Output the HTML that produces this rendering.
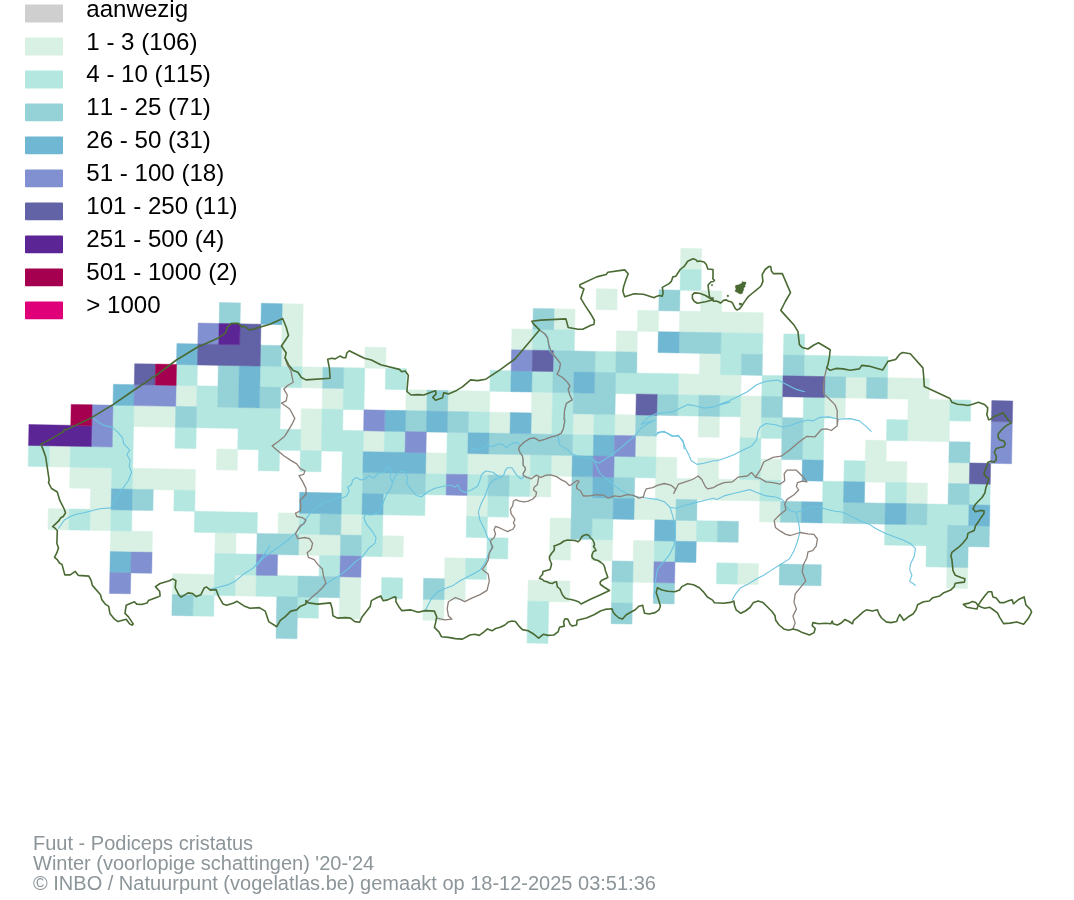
<!DOCTYPE html>
<html lang="nl"><head><meta charset="utf-8"><title>Fuut - Podiceps cristatus</title>
<style>html,body{margin:0;padding:0;background:#fff}svg{display:block}text{font-family:"Liberation Sans",sans-serif;font-kerning:none}.lg{font-size:24.1px;fill:#000}.ft{font-size:20px;fill:#8c9599}</style></head><body>
<svg width="1074" height="900" viewBox="0 0 1074 900">
<rect width="1074" height="900" fill="#fff"/>
<g transform="matrix(20.915 0.389 -0.389 20.915 32.45 236.3)" shape-rendering="auto">
<path fill="#d8f1e4" stroke="#d8f1e4" stroke-width="0.022" stroke-linejoin="miter" d="M31 0h1v1h-1zM27 2h1v1h-1zM32 2h1v1h-1zM12 3h1v1h-1zM25 3h1v1h-1zM29 3h1v1h-1zM31 3h4v1h-4zM12 4h1v1h-1zM23 4h1v1h-1zM28 4h1v1h-1zM12 5h1v1h-1zM16 5h1v1h-1zM32 5h1v1h-1zM13 6h1v1h-1zM31 6h3v1h-3zM39 6h1v1h-1zM41 6h2v1h-2zM7 7h1v1h-1zM14 7h1v1h-1zM18 7h1v1h-1zM20 7h2v1h-2zM24 7h1v1h-1zM34 7h1v1h-1zM38 7h1v1h-1zM42 7h2v1h-2zM5 8h2v1h-2zM13 8h1v1h-1zM22 8h1v1h-1zM24 8h1v1h-1zM26 8h1v1h-1zM28 8h1v1h-1zM32 8h1v1h-1zM34 8h1v1h-1zM42 8h2v1h-2zM13 9h1v1h-1zM16 9h1v1h-1zM29 9h1v1h-1zM40 9h1v1h-1zM1 10h1v1h-1zM9 10h1v1h-1zM19 10h1v1h-1zM21 10h3v1h-3zM25 10h1v1h-1zM30 10h1v1h-1zM32 10h1v1h-1zM35 10h1v1h-1zM40 10h2v1h-2zM44 10h1v1h-1zM2 11h2v1h-2zM5 11h3v1h-3zM24 11h1v1h-1zM30 11h5v1h-5zM42 11h1v1h-1zM3 12h1v1h-1zM21 12h1v1h-1zM29 12h2v1h-2zM35 12h1v1h-1zM1 13h1v1h-1zM3 13h1v1h-1zM12 13h1v1h-1zM15 13h1v1h-1zM25 13h1v1h-1zM31 13h1v1h-1zM4 14h2v1h-2zM9 14h1v1h-1zM13 14h2v1h-2zM17 14h1v1h-1zM25 14h1v1h-1zM27 14h1v1h-1zM29 14h1v1h-1zM20 15h1v1h-1zM29 15h1v1h-1zM34 15h1v1h-1zM44 15h1v1h-1zM7 16h2v1h-2zM10 16h1v1h-1zM15 16h1v1h-1zM20 16h1v1h-1zM24 16h2v1h-2zM15 17h1v1h-1zM19 17h1v1h-1z"/>
<path fill="#b3e7e0" stroke="#b3e7e0" stroke-width="0.022" stroke-linejoin="miter" d="M31 1h1v1h-1zM24 4h2v1h-2zM33 4h2v1h-2zM36 4h1v1h-1zM27 5h1v1h-1zM33 5h1v1h-1zM37 5h4v1h-4zM7 6h1v1h-1zM11 6h2v1h-2zM15 6h1v1h-1zM17 6h1v1h-1zM22 6h1v1h-1zM24 6h1v1h-1zM28 6h3v1h-3zM35 6h1v1h-1zM8 7h1v1h-1zM15 7h1v1h-1zM25 7h1v1h-1zM31 7h1v1h-1zM33 7h1v1h-1zM37 7h1v1h-1zM44 7h1v1h-1zM4 8h1v1h-1zM8 8h4v1h-4zM14 8h1v1h-1zM21 8h1v1h-1zM25 8h1v1h-1zM27 8h1v1h-1zM35 8h1v1h-1zM37 8h1v1h-1zM41 8h1v1h-1zM4 9h1v1h-1zM7 9h1v1h-1zM10 9h3v1h-3zM14 9h2v1h-2zM17 9h1v1h-1zM20 9h1v1h-1zM26 9h1v1h-1zM34 9h1v1h-1zM37 9h1v1h-1zM0 10h1v1h-1zM2 10h3v1h-3zM11 10h1v1h-1zM13 10h1v1h-1zM15 10h1v1h-1zM20 10h1v1h-1zM24 10h1v1h-1zM28 10h2v1h-2zM34 10h1v1h-1zM39 10h1v1h-1zM4 11h1v1h-1zM15 11h1v1h-1zM19 11h1v1h-1zM21 11h1v1h-1zM23 11h1v1h-1zM35 11h1v1h-1zM38 11h1v1h-1zM41 11h1v1h-1zM45 11h1v1h-1zM7 12h1v1h-1zM15 12h1v1h-1zM17 12h2v1h-2zM22 12h1v1h-1zM38 12h1v1h-1zM43 12h2v1h-2zM2 13h1v1h-1zM4 13h1v1h-1zM8 13h3v1h-3zM13 13h1v1h-1zM16 13h1v1h-1zM21 13h1v1h-1zM27 13h1v1h-1zM32 13h1v1h-1zM41 13h3v1h-3zM16 14h1v1h-1zM22 14h1v1h-1zM30 14h1v1h-1zM43 14h1v1h-1zM9 15h2v1h-2zM14 15h1v1h-1zM21 15h1v1h-1zM33 15h1v1h-1zM9 16h1v1h-1zM11 16h2v1h-2zM17 16h1v1h-1zM28 16h1v1h-1zM8 17h1v1h-1zM13 17h1v1h-1zM24 17h1v1h-1zM24 18h1v1h-1z"/>
<path fill="#95d2d7" stroke="#95d2d7" stroke-width="0.022" stroke-linejoin="miter" d="M30 2h1v1h-1zM9 3h1v1h-1zM24 3h1v1h-1zM31 4h2v1h-2zM11 5h1v1h-1zM25 5h2v1h-2zM28 5h1v1h-1zM34 5h1v1h-1zM36 5h1v1h-1zM9 6h1v1h-1zM14 6h1v1h-1zM25 6h1v1h-1zM27 6h1v1h-1zM38 6h1v1h-1zM40 6h1v1h-1zM9 7h1v1h-1zM11 7h1v1h-1zM19 7h1v1h-1zM26 7h2v1h-2zM30 7h1v1h-1zM32 7h1v1h-1zM35 7h1v1h-1zM7 8h1v1h-1zM18 8h1v1h-1zM20 8h1v1h-1zM29 8h1v1h-1zM36 8h1v1h-1zM22 9h4v1h-4zM36 9h1v1h-1zM44 9h1v1h-1zM16 11h3v1h-3zM22 11h1v1h-1zM26 11h1v1h-1zM28 11h1v1h-1zM44 11h1v1h-1zM5 12h1v1h-1zM26 12h2v1h-2zM31 12h1v1h-1zM36 12h1v1h-1zM39 12h2v1h-2zM42 12h1v1h-1zM14 13h1v1h-1zM26 13h1v1h-1zM33 13h1v1h-1zM44 13h2v1h-2zM11 14h2v1h-2zM15 14h1v1h-1zM44 14h1v1h-1zM28 15h1v1h-1zM36 15h2v1h-2zM13 16h2v1h-2zM19 16h1v1h-1zM30 16h1v1h-1zM7 17h1v1h-1zM12 17h1v1h-1zM28 17h1v1h-1zM12 18h1v1h-1z"/>
<path fill="#6fb7d2" stroke="#6fb7d2" stroke-width="0.022" stroke-linejoin="miter" d="M11 3h1v1h-1zM30 4h1v1h-1zM7 5h1v1h-1zM10 6h1v1h-1zM23 6h1v1h-1zM26 6h1v1h-1zM4 7h1v1h-1zM10 7h1v1h-1zM17 8h1v1h-1zM19 8h1v1h-1zM23 8h1v1h-1zM21 9h1v1h-1zM27 9h1v1h-1zM16 10h3v1h-3zM26 10h1v1h-1zM37 10h1v1h-1zM27 11h1v1h-1zM39 11h1v1h-1zM4 12h1v1h-1zM13 12h2v1h-2zM16 12h1v1h-1zM28 12h1v1h-1zM37 12h1v1h-1zM41 12h1v1h-1zM45 12h1v1h-1zM30 13h1v1h-1zM31 14h1v1h-1zM4 15h1v1h-1z"/>
<path fill="#8090d0" stroke="#8090d0" stroke-width="0.022" stroke-linejoin="miter" d="M8 4h1v1h-1zM23 5h1v1h-1zM5 7h2v1h-2zM3 8h1v1h-1zM16 8h1v1h-1zM46 8h1v1h-1zM3 9h1v1h-1zM18 9h1v1h-1zM28 9h1v1h-1zM46 9h1v1h-1zM27 10h1v1h-1zM20 11h1v1h-1zM5 15h1v1h-1zM11 15h1v1h-1zM15 15h1v1h-1zM30 15h1v1h-1zM4 16h1v1h-1z"/>
<path fill="#6262a6" stroke="#6262a6" stroke-width="0.022" stroke-linejoin="miter" d="M10 4h1v1h-1zM8 5h3v1h-3zM24 5h1v1h-1zM5 6h1v1h-1zM36 6h2v1h-2zM29 7h1v1h-1zM46 7h1v1h-1zM45 10h1v1h-1z"/>
<path fill="#5c2595" stroke="#5c2595" stroke-width="0.022" stroke-linejoin="miter" d="M9 4h1v1h-1zM0 9h3v1h-3z"/>
<path fill="#a5004f" stroke="#a5004f" stroke-width="0.022" stroke-linejoin="miter" d="M6 6h1v1h-1zM2 8h1v1h-1z"/>
</g>
<g fill="none" stroke="#6cc4e0" stroke-width="1.1" stroke-linejoin="round" stroke-linecap="round">
<path d="M92.4,417.2 99.4,423.1 104,425.4 112.2,427.3 118,432.4 122.7,438.2 123.9,444.1 128.5,448.7 129.7,450 126.9,454.7 130.2,460.5 129.2,466.3 131.6,472.2 128.5,480.3 122.7,488.5 115.7,499 110.6,507.9 99.4,508.8 90,511.2 83,513 76,514.2 70.2,516.5 64.4,520 58.5,528.2"/>
<path d="M209.1,589.4 218.4,587.3 227.7,584.9 235.9,580.7 244.1,573.7 253.4,567.9 260.4,559.7 265.1,552.7 270,545.7 257,565.5 262.8,558.5 271,552.2 280.3,545.7 289.7,538.7 296.7,531.7 302.5,524.7 306,518.9 309.5,514.2 315.4,508.4 324.7,502.5 331.7,500.2 339.9,496.7 343.4,497.9 346.9,495.5 349.2,490.8 347.6,487.3 351.5,484.5 352.7,479.9 356.2,477.5 360.9,479.9 364.4,479.2 369,475.7 373.7,478 378.4,473.3 384.2,472.2 386.6,467.5 388.9,465.9 391.2,471 390.1,476.8 392.4,482.7 395.2,475.7 399.4,471.5 404.5,471.5 407.6,477.5 406.4,482.7 411.1,489.7 416.2,495.5 421.6,496.7 427.4,492 434.4,488.5 443.7,486.2 450.7,485 455.4,487.3 457.7,484.5 460.1,489.7 464.8,492.5 471.8,489.7 477.6,486.2 479.9,480.3 481.6,474.5 485.8,471 492.8,472.2 497.4,475.7 500,478 503.7,475.1 505.2,470.7 507.5,467.7 511.9,467.7 514.2,471.4 517.2,475.9 520.9,478.8 523.1,478.1 523.1,473.6 525.3,469.9 525.3,467.7 523.1,465.4 523.1,460.2 522.4,455.8 520.1,452.8 518.6,449.1 519.4,446.8 523.9,442.3 529.8,438.6 534.3,437.9 539.5,440.9 544.7,439.4 550.7,437.1 556.6,435.6 561.1,433.4 563.3,428.9 564.8,423 564.8,420 564.5,410.4 566.4,403.4 572.2,399.9 569.9,395.2 568.2,389.4 569.9,385.9 567.5,382.4 562.9,377.7 557,374.2 559.4,369.6 560.5,363.7 557,359 552.4,354.4 548.9,349.7 548.2,342.7 546.5,334.5 539.5,329.9"/>
<path d="M307.2,601.7 317.7,592.4 324.7,585.4 330.5,580.7 338.7,576.1 348,569 355,562 362,557.4 369,548 374.9,543.4 376.1,537.5 372.5,531.7 366.7,524.7 363.9,517.7 365.5,514.2 371.4,514.9 378.4,511.9 381.9,506 384.2,500.2 386.6,494.4 390.1,489.7 392.4,483.8"/>
<path d="M425.1,611.1 430.9,599.4 436.7,592.4 443.7,588.9 453.1,585.4 460.1,580.7 469.4,576.1 479.9,570.2 485.8,562 488.1,555 491.6,548 490.4,541 488.1,538.7 484.6,529.4 479.9,520 478.3,511.9 481.1,503.7 484.6,496.7 488.1,487.3 489.6,484.1 493.3,480.3 497.8,478.4"/>
<path d="M471,448.3 474.7,449.1 479.2,449.8 483.6,447.6 488.1,444.6 489.6,446.8 494.1,446.1 498.5,443.8 503,444.6 506,447.6 509,445.3 513.4,443.1 516.4,442.3 519.4,444.6"/>
<path d="M558.1,436.4 558.9,440.9 559.6,444.6 564.1,447.6 568.5,450.5 571.5,453.5 576.7,455.8 582,457.2 585.7,459 590,457.2 594.4,460.8 599,463.2 606.1,458.5 611.9,455 617.7,450.3 624.7,444.5 631.7,438.7 636.4,434 641.1,428.2 648.1,423.5 655.1,420 641.1,424.4 648.1,417.4 655.1,413.9 664.4,412.7 673.7,411.6 680.7,408.1 687.7,404.6 694.8,405.7 704.1,408.1 713.4,406.9 720.4,404.6 730,402.2 719.3,404.6 728.7,401.1 738,396.4 747.3,391.7 756.7,384.7 766,381.2 777.7,380.1 787,384.7 796.4,389.4 804.5,391.7"/>
<path d="M594.4,460.8 596.7,466.7 600.2,473.7 607.2,479.5 614.2,485.4 620.1,490 629.4,494.7 638.7,497 648.1,498.2 657.4,499.4 664.4,501.7 670.2,507.5 676.1,508.2 685.4,505.2 694.8,502.9 704.1,500.5 713.4,498.2 717,499.4 724,495.9 733.3,493.5 742.7,491.2 749.7,489.6 756.7,492.4 766,495.9 775.4,497 782.4,499.4 787,507.5 790.5,511 796.4,512.2 803.4,509.9 810.4,507.5 817.4,506.4 824.4,508.7 833.7,511 843.1,512.2 850.1,515.7 859.4,520.4 868.7,523.9 875.7,528.5 885.1,533.2 894.4,536.7 903.7,540.2 910.7,543.7 915.4,548.4 914.2,556.6 910.7,563.6 909.6,569.4 911.9,575.2 909.6,581.1 915.4,585.3"/>
<path d="M670.2,507.5 672.6,515.7 674.9,525 675.6,536.7 673.7,546.1 669.1,555.4 663.2,562.4 657.4,569.4 655.1,583.4 653.9,597.4"/>
<path d="M796.4,513.4 798.7,522.7 799.9,532 797.5,541.4 794,550.7 789.4,558.9 780,564.7 770.7,570.6 763.7,575.2 756.7,578.7 747.3,584.6 740.3,588.1 735.7,593.9 732.2,599.7"/>
<path d="M655.1,435.2 660.9,431.7 666.7,432.8 673.7,436.3 678.4,435.2 683.1,442.2 685.4,448 688.9,455 691.3,460.8 697.1,464.4 704.1,463.2 713.4,460.8 717,460.8 724,458.5 733.3,455 742.7,450.3 752,445.7 756.7,439.8 757.9,431.7 760.2,427 766,423.5 775.4,424.7 782.4,427 789.4,425.8 798.7,422.3 808,420 812.7,420.9 819.7,417.4 829,416.9 838.4,419.3 850.1,418.6 859.4,420.9 866.4,426.7 871.1,431.4"/>
<path d="M657.4,432.6 664.4,431.4 671.4,436.1 678.4,436.1 683.1,440.7 684.2,448.9"/>
</g>
<g fill="none" stroke="#8b8079" stroke-width="1.3" stroke-linejoin="round" stroke-linecap="round">
<path d="M285,357.7 287.3,364.7 290.8,370.5 293.2,382.2 287.3,385.7 283.8,389.2 287.3,395 286.2,400.9 281.5,403.2 285,405.5 289.7,409 294.8,418.4 292,424.2 288.5,430.1 285,435.9 278,441.7 272.2,445.9 276.8,449.9 283.8,455.7 290.8,460.4 296.7,463.9 300.2,468.6 304.9,470.9 303.7,474.4 299,475.6 302.5,481.4 306,488.4 306,494.2 300.2,500.2 300.9,507.2 300.2,511.2 295.5,513 296.7,516.5 302.5,517.7 306,520 304.2,523.5 300.2,525.9 297.9,529.4 295.5,534 297.9,538.7 304.9,537.5 309.5,538.7 312.6,543.4 311.2,549.2 307.2,552.7 308.4,557.4 314.2,559.7 317.7,564.4 322.4,569 323.5,576.1 325.9,583.1 322.4,587.7 317.7,592.4 311.9,597.1 307.2,601.7"/>
<path d="M539.5,329.9 544.2,333.4 547.7,338 548.9,345 551.2,352 557,359 560.5,363.7 559.4,369.6 557,374.2 562.9,377.7 567.5,382.4 569.9,385.9 568.2,389.4 569.9,395.2 572.2,399.9 566.4,403.4 564.5,410.4 564,419.7 564.8,420 563.3,428.9 561.1,433.4 556.6,435.6 550.7,437.1 544.7,439.4 539.5,440.9 534.3,437.9 529.8,438.6 523.9,442.3 519.4,446.8 518.6,449.1 520.1,452.8 522.4,455.8 523.1,460.2 523.1,465.4 525.3,467.7 525.3,469.9 523.1,473.6 523.9,475.9 526.8,477.4 531.3,478.8 534.3,476.6 536.5,475.1 538.8,476.6 541,477.4 546.2,475.1 550.7,474.8 556.6,476.6 561.1,479.6 565.6,481.8 569.3,485.5 571.5,484.8 573.8,482.6 577.5,480.3 579,481.8 576.7,484.8 576.7,488.5 580.5,490.8 582,493.7 583.4,496 589.7,495.9 596.7,494.7 603.7,495.2 608.4,498.2 614.2,495.9 620.1,496.6 627.1,494.7 632.9,495.2 638.7,498.2 643.4,497 644.6,492.4 646.2,488.9 652.7,487.7 657.4,485.4 664.4,483.5 671.4,485.4 675.6,488.9 673.7,493.5 678.4,484.2 685.4,481.9 692.4,479.5 698.3,476 701.8,479.5 705.3,486.5 707.6,488.9 713.4,487.7 717,485.4 724,482.6 732.2,481.9 738,477.2 747.3,476 751.5,472.5 755.5,477.2 760.2,470.2 763.7,462 773,457.3 781.2,456.2 789.4,450.3 798.7,442.2 806.9,436.3 815,436.8 821.6,429.3 826.7,428.9 831.4,430.5 837.2,425.8 837.9,420 837.2,424.4 837.2,410.4 834.9,404.6 829,398.7 823.9,394.1 823.2,387.1 824.4,377.7 826.7,367.9"/>
<path d="M538.8,477.4 538,481.1 537.3,484.8 534.3,487 533.5,490 536.5,492.3 535.8,496 532.8,499 528.3,501.2 523.9,501.9 519.4,501.2 515.7,499.7 513.4,501.2 512.7,505.7 510.4,509.4 511.2,513.9 513.4,516.8 514.9,519.8 513.4,522.8 514.9,525.8 512.7,529.5 510.4,530.2 507.5,531.7 503,529.5 498.5,527.3 495.5,526.5 494.1,529.5 495.5,534 494.1,537.7 491.1,539.9 490.5,541.4 492.8,547.2 489.3,553.1 488.2,560.1 485.8,564.7 482.3,569.4 488.2,574.1 489.3,581.1 487,590.4 480,594.6 471.8,598.2 464.8,601.7 460.1,599.4 455.4,597.5 448.4,601.7 447.2,608.7 448.4,615.7 451.9,619.2 444.9,619.9 436.7,618.1"/>
<path d="M755.5,477.2 760.2,478.4 766,481.9 773,482.6 780,484.2 784.7,480.7 784.2,473.7 787,470.2 796.4,470.2 803.4,477.2 806.9,481.9 802.2,481.2 797.5,482.6 796.4,486.5 798.7,490 794,494.7 787,499.4 784.7,504 785.9,509.9 780,514.5 774.2,520.4 775.4,527.4 780,530.9 785.9,534.4 790.5,535.5 799.9,532.5 808,533.9 813.9,534.4 817.4,539 816.2,546.1 812.7,550.7 808,551.9 806.9,557.7 803.4,564.7 802.2,571.7 805.7,581.1 799.9,588.1 795.2,593.9 794,602.1 796.4,609.1 792.9,616.1 795.2,623.1 792.9,628.9"/>
</g>
<g fill="none" stroke="#4a6a34" stroke-width="1.6" stroke-linejoin="round" stroke-linecap="round">
<path d="M41,444.1 48,440.6 63.2,431.9 64.4,429.6 66.7,429.6 91.2,417.9 113.4,404.4 132,391.5 151.2,378.7 151.9,377.3 153.5,377.3 176.4,360 197.4,347.2 218.4,337.9 225.4,333.2 227.3,327.3 231.3,323.4 238.3,323.4 241.8,326.9 244.1,326.2 249.9,330.1 270,324.3 282.7,318.5 286.2,327.3 288.5,335.5 281.5,346 286.2,353 285,357.7 288.5,364.7 293.2,370.5 297.9,372.2 301.4,377.5 306,379.9 330.1,378.2 329.4,368.2 327.7,359.3 331.7,358.2 335.2,358.9 339.9,356.1 343.4,357.7 345.7,357.7 346.9,353 349.2,350.7 364.4,358.2 371.4,360 380.7,364.7 399.4,369.4 401.7,371.7 405.2,371 408.3,375.2 406.9,391.5 411.1,395 418.1,394.6 423.9,395 430.9,392.2 435.6,390.8 436,393.9 432.8,397.4 435.6,400.2 442.6,397.8 443.7,392.7 448.4,393.9 456.6,390.4 462.4,386.9 470.6,379.9 477.6,380.6 485.8,379.2 500,369.8 515,359 539.5,329.9 533.2,323.6 531.8,321.2 540.7,320.1 565.9,318.9 568.2,327.5 578,329.2 582.7,329.2 590.9,325.2 593.9,324.5 594.4,320.5 590.9,314.2 585,305.4 580.8,298.4 582.7,292.5 583.9,289 579.9,286.7 579.9,284.8 596.7,276.9 606.1,274.5 607.9,272.2 624.7,269.9 628.2,273.8 625.9,279.7 623.6,286.7 622.9,291.4 624.7,296.7 634.1,293.7 643.4,294.2 654.2,297.8 655.6,296.7 659.4,295.5 662.3,296.3 663.1,292.6 662.3,287.4 669.1,283.6 671.3,281.4 672.8,276.9 675.8,276.2 680.2,269.5 684.7,265.8 687.7,261.3 692.9,258.8 695.9,259.8 697.4,261.6 699.6,261 704.1,262 706.3,264.6 707.8,269 713,269.5 713,277.3 712.7,278.7 713.7,279.5 714.5,280.3 713.4,281.5 711.2,281.7 709.8,283.1 708.1,285.1 708.4,288.4 708.9,292.3 709.5,296.3 710.3,298.5 705.5,295.5 699.6,293.3 694.4,292.9 692.4,294.8 692.4,298.5 694.4,301.5 697.4,303.3 705.5,301.8 712.3,300 714,301.3 716.2,301 718.4,301.8 720.4,303 722.1,301.8 723.5,300.4 726.3,299.9 728.5,301.3 731,301.8 732.7,303.2 733.5,305.2 734.6,307.2 735.8,309.1 736.9,309.9 739.1,309.1 740.8,307.4 741.9,305.8 744.1,302.4 746.4,299.1 748.6,296.3 752,293.5 755.9,290.4 760,287 761.4,285.1 762.9,281.4 762.2,274.7 765.1,269.5 768.9,266.5 770.8,266.5 771.4,271 773.3,273.6 782.3,273.6 790.5,292.6 785.3,301.5 780.8,310.4 787.5,317.9 794.2,325.3 797.9,331.3 799.4,344.7 802.2,347.4 808,349 813.9,345 818.5,342.7 824.4,346.2 830.2,349.7 829.5,356.7 827.9,364.9 826.7,367.9 830.2,370.3 836.1,368.4 843.1,368.9 850.1,370.3 859.4,368.9 861.7,365.4 868.7,366.1 882.7,370 887.9,361.4 895.6,359.5 899.5,354.4 902.6,352.5 910.3,353.7 922.9,367.9 923.6,375.4 924.3,386.6 950,398.5 951.9,402.3 957.5,404.2 963.2,404.7 967.9,405.5 972.6,404.2 978.3,402.3 981.1,403.2 984.9,404.7 987.7,407.9 987.4,411.7 986.8,414.5 988.7,419.8 990.6,419.2 994.3,416.4 1000,414.2 1002.8,412.6 1005.7,416.4 1008.5,420.2 1011.3,423 1007.5,424.9 1004.7,426.8 1000.9,430.6 998.1,434.3 998.1,437.2 1000,440 1003.8,440.9 1005.3,443.8 1003.8,446.6 1000,447.5 996.2,448.5 994.3,452.3 996.2,456 996.2,459.8 994.3,462.1 990.6,461.3 987.7,462.6 986.8,466.4 984.9,470.2 984,474 985.8,476.8 988.7,478.3 987.7,482.5 985.8,488.1 984.9,492.8 982.1,497.5 978.3,501.3 975.5,504.2 973,508.9 975.5,511.7 980.2,510.4 984,510.8 984,513.6 981.1,517.4 978.3,522.1 975.5,525.8 974.2,530.6 970.8,531.9 967.9,533.4 967,538.1 963.2,542.8 959.4,546.6 955.7,549.4 951.9,552.3 950.9,556 951.9,559.8 953,570.7 955.3,575.3 961,577.6 964.9,578.7 964.4,582.1 959.8,582.6 955.3,583.3 954.1,586.7 950.7,590.1 943.2,593.1 939.8,595.9 932.8,597.7 929.3,601 923.5,601.7 917.6,604.7 916,609.8 913,614 908.3,616.8 903.7,620.3 901.4,616.8 899.7,614.5 897.9,618 896.7,621.5 890.9,622.6 886.2,621.9 881.6,618 879.2,614.5 877.4,609.8 872.3,611 866.4,609.8 862.9,612.2 858.3,616.4 853.6,620.3 852.5,623.8 849,621.5 844.8,619.6 840.8,623.3 837.3,625 833.1,623.8 832.2,621 830.8,623.8 825.7,623.3 818.7,623.8 812.9,622.6 812.2,625.7 815.2,628.5 814.1,632.6 809.4,635 805.9,633.8 802.4,632.6 797.8,630.3 793.1,628.9 788.5,630.3 783.8,628.9 779.1,625 775.7,620.3 775,615.7 772.2,611.7 767.5,607 762.8,602.4 758.2,601 753.5,602.4 750,607.5 745.4,611 740.7,613.3 736.1,609.8 734.5,605.2 733.8,601 730.3,602.4 723.3,603.3 714.4,602.8 712.6,600.1 707.4,597 703.9,592.4 699.3,587.7 693.5,584.7 687.6,583.8 681.8,586.6 679.5,590 674.8,591.7 667.9,591.2 662,590 657.4,587.7 656.2,592.4 658.5,599.4 660.4,606.3 659,609.8 655.1,612.6 649.2,614 644.6,613.3 643.4,608.7 642.7,605.2 638.8,606.3 635.3,609.8 630.6,612.2 626,615 622.5,619.1 619,618 615.5,615 613.2,612.2 612,608.7 605,609.4 600.4,611 594.5,614.5 586.4,618 577.1,620.3 576.6,625 572.4,626.1 570.1,624.3 567.8,619.1 565,618.7 563.6,621.9 564.3,626.1 559.6,627.3 558,631.9 553.8,635 548,635.4 543.3,634.3 538.7,638.2 534,634.3 528.2,630.8 522.4,629.6 518.9,626.1 515.4,621.5 511.9,621 508.4,621.9 504.9,625 500.3,627.3 495.6,628.5 492.1,630.8 487.5,628.9 484,631.9 479.3,635.4 474.7,634.3 470,635 462.4,639.1 455.4,638.6 448.4,637.4 441.4,636.7 439.1,632.1 434.4,627.4 435.6,622.7 436.7,616.9 434.4,611.1 425.1,610.6 418.1,612.2 411.1,609.9 401.7,610.6 399.4,607.6 395.9,601.7 395.9,597.1 393.6,597.1 387.7,599.9 383.1,600.6 380.7,595.9 377.2,597.5 371.4,600.6 370.2,606.4 366.7,611.1 362,616.9 359.7,622.3 355,621.6 350.4,618.1 345.7,617.6 337.5,618.1 332.9,615.7 332.2,608.7 330.5,602.9 317.7,604.1 308.4,602.9 306,600.6 306,604.1 300.2,606.4 296.7,609.9 290.8,611.1 285,616.9 280.3,620.4 276.8,626.7 268.7,621.6 265.2,611.1 259.3,607.6 250,608.3 244.1,605.9 237.1,601.3 233.6,602.9 226.6,605.2 223.1,604.1 218.4,595.9 216.1,589.6 210.2,590.1 206.7,587 204.4,587.7 200.9,594.7 196.2,596.6 192.7,593.6 188.1,592.9 181.1,597.1 178.7,594.7 175.2,587.7 175.9,580.7 172.9,578.9 169.4,580.7 160.1,583.5 155.4,586.6 159.6,591.2 160.1,595.9 157.7,597.1 148.4,600.6 147.2,602.9 141.4,604.5 136.7,604.1 134.4,601.7 126.2,605.2 125,613.4 128.5,616.9 133.2,623.9 132,625.1 129.7,623.9 126.2,619.2 118,621.6 114.5,619.2 109.9,613.4 108.7,606.4 105.2,604.1 101.7,599.4 100.5,594.7 92.4,585.4 91.2,580.7 88.9,576.1 78.4,575.4 75.3,571.4 70.2,574.9 64.8,574.9 62,564.4 59.7,563.2 57.3,559.7 54.5,557.4 56.9,552.7 58.5,548 56.9,543.4 57.3,530.5 55,528.2 52.7,526.6 58.5,521.2 60.8,517.7 63.2,516.5 65.5,513 64.4,509.5 59.7,500.2 57.3,492 51.5,488.5 48.5,482.7 49.2,480.3 45.7,457 44.5,453.4 41,444.1Z"/>
<path d="M586.5,534.5 589,535.5 590,537.5 592.5,539.5 594,542.5 594.5,545 593.5,546.5 595,548.5 596,550.5 593.5,551.5 592.5,553.5 591.8,556 592.5,558 595,559.8 598,560.5 601,562.5 603.5,564.5 604.8,567.5 605.5,571 607,575 607.8,577.5 604.5,579 601.5,580.5 600,582.5 600.5,584.5 604,587 609.5,590.5 600,595 590,599.5 581,604 579,602 575,600.5 571,599.5 568,599 565,598 562.5,595 561,591.5 560,589 557.5,587 556.8,584 556.5,581.8 554.5,582.2 552.5,583.5 549.5,583 547,581.8 544,581 542.5,579.5 539.5,578.5 540.5,576.5 542.5,574.5 543,571.5 546.5,570.5 550,569.5 551,566.5 551.5,563.5 550.5,561.5 549.5,559 549.5,556.5 551.5,553.5 554,550.5 554.5,548 554,546 557,545 560.5,543.5 564,541 567.5,540 571,540.2 575,540.5 578,541.8 580,540 581.5,537 583.5,535.5Z"/>
<path d="M963.3,604.4 966.7,607.2 972.4,608.3 976.9,609 978.1,605.4 975.8,602.6 972.4,601.5 969,603.1 963.3,604.4Z"/>
<path d="M978.1,605.4 981.5,600.3 984.9,595.8 988.3,591.7 991.7,591.7 992.9,596.9 996.3,598.1 999.7,602.6 1004.3,602.6 1010,600.3 1012.2,599.9 1013.4,603.8 1019.1,599.2 1024.1,596.9 1025.9,604.9 1030.5,609.5 1031.6,612.2 1028.2,618.6 1023.6,624.3 1016.8,622 1010,623.1 1003.6,623.6 999.7,617.4 997.4,612.9 992.9,609.5 989.5,607.2 984.9,608.3 981.5,607.2 978.1,605.4Z"/>
</g>
<g fill="#4a6a34" stroke="#4a6a34" stroke-width="0.3" stroke-linejoin="round">
<path d="M742.5,281.2 743.6,282 745.8,282 746.1,283.7 745,285.1 745.3,286.8 743.6,287.9 743.9,289.6 743,291.2 742.5,293.2 741.1,294 739.1,293.7 737.4,292.6 735.5,291.8 734.9,290.7 736,289.3 735.2,287.3 735.5,285.6 736.9,285.1 738.5,284.8 740.2,284 741.9,283.1Z"/>
<path d="M711.2,284.6 712.8,284.6 712.8,285.8 711.2,285.8Z"/>
<path d="M727.1,295.1 728.6,295.1 728.6,296.8 727.1,296.8Z"/>
<path d="M739.1,303 741.6,303 741.9,304.9 739.4,305.2Z"/>
<path d="M710.9,297.4 713.7,297.4 713.7,300.2 710.9,300.2Z"/>
</g>
<rect x="25" y="4.6" width="38" height="17.8" rx="1" fill="#cfcfcf"/>
<text class="lg" x="86.3" y="16.5">aanwezig</text>
<rect x="25" y="37.6" width="38" height="17.8" rx="1" fill="#d8f1e4"/>
<text class="lg" x="86.3" y="49.5">1 - 3 (106)</text>
<rect x="25" y="70.6" width="38" height="17.8" rx="1" fill="#b3e7e0"/>
<text class="lg" x="86.3" y="82.4">4 - 10 (115)</text>
<rect x="25" y="103.5" width="38" height="17.8" rx="1" fill="#95d2d7"/>
<text class="lg" x="86.3" y="115.4">11 - 25 (71)</text>
<rect x="25" y="136.5" width="38" height="17.8" rx="1" fill="#6fb7d2"/>
<text class="lg" x="86.3" y="148.3">26 - 50 (31)</text>
<rect x="25" y="169.5" width="38" height="17.8" rx="1" fill="#8090d0"/>
<text class="lg" x="86.3" y="181.2">51 - 100 (18)</text>
<rect x="25" y="202.5" width="38" height="17.8" rx="1" fill="#6262a6"/>
<text class="lg" x="86.3" y="214.2">101 - 250 (11)</text>
<rect x="25" y="235.5" width="38" height="17.8" rx="1" fill="#5c2595"/>
<text class="lg" x="86.3" y="247.2">251 - 500 (4)</text>
<rect x="25" y="268.4" width="38" height="17.8" rx="1" fill="#a5004f"/>
<text class="lg" x="86.3" y="280.1">501 - 1000 (2)</text>
<rect x="25" y="301.4" width="38" height="17.8" rx="1" fill="#df0079"/>
<text class="lg" x="86.3" y="313.1">&gt; 1000</text>
<text class="ft" x="33" y="850">Fuut - Podiceps cristatus</text>
<text class="ft" x="33" y="870.3">Winter (voorlopige schattingen) '20-'24</text>
<text class="ft" x="33" y="890.4">© INBO / Natuurpunt (vogelatlas.be) gemaakt op 18-12-2025 03:51:36</text>
</svg></body></html>
